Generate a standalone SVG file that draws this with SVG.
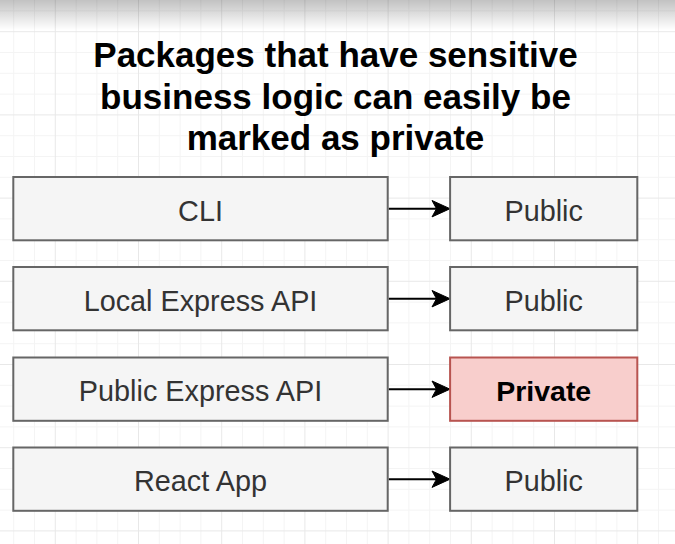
<svg xmlns="http://www.w3.org/2000/svg" width="675" height="544" viewBox="0 0 675 544">
  <defs>
    <style>
      .title { font-family: "Liberation Sans", Arial, Helvetica, sans-serif; font-weight: bold; font-size: 35px; fill: #000; text-anchor: middle; }
      .box { fill: #f5f5f5; stroke: #666666; stroke-width: 2; }
      .box-private { fill: #f8cecc; stroke: #b85450; stroke-width: 2; }
      .label { font-family: "Liberation Sans", Arial, Helvetica, sans-serif; font-size: 28.8px; fill: #333333; text-anchor: middle; }
      .label-bold { font-family: "Liberation Sans", Arial, Helvetica, sans-serif; font-size: 28.5px; font-weight: bold; fill: #000; text-anchor: middle; }
      .edge { stroke: #000; stroke-width: 2; fill: none; }
      .head { fill: #000; stroke: #000; stroke-width: 1; stroke-linejoin: miter; }
    </style>
    <pattern id="grid" patternUnits="userSpaceOnUse" x="54.8" y="31.2" width="83.2" height="83.2">
      <rect x="20.8" y="0" width="1" height="83.2" fill="#f4f4f4"/>
      <rect x="41.6" y="0" width="1" height="83.2" fill="#f4f4f4"/>
      <rect x="62.4" y="0" width="1" height="83.2" fill="#f4f4f4"/>
      <rect x="0" y="20.8" width="83.2" height="1" fill="#f4f4f4"/>
      <rect x="0" y="41.6" width="83.2" height="1" fill="#f4f4f4"/>
      <rect x="0" y="62.4" width="83.2" height="1" fill="#f4f4f4"/>
      <rect x="0" y="0" width="1" height="83.2" fill="#e8e8e8"/>
      <rect x="0" y="0" width="83.2" height="1" fill="#e8e8e8"/>
    </pattern>
    <linearGradient id="shade" x1="0" y1="0" x2="0" y2="1">
      <stop offset="0" stop-color="#000" stop-opacity="0.24"/>
      <stop offset="1" stop-color="#000" stop-opacity="0"/>
    </linearGradient>
  </defs>

  <rect x="0" y="0" width="675" height="544" fill="#ffffff"/>
  <rect x="0" y="0" width="675" height="544" fill="url(#grid)"/>
  <rect x="0" y="0" width="675" height="30" fill="url(#shade)"/>

  <g id="title">
    <text class="title" x="335.5" y="67">Packages that have sensitive</text>
    <text class="title" x="335.5" y="108.5">business logic can easily be</text>
    <text class="title" x="335.5" y="150">marked as private</text>
  </g>

  <g id="connectors">
    <line class="edge" x1="388.7" y1="208.7" x2="440" y2="208.7"/>
    <polygon class="head" points="450,208.7 432,200.5 436.5,208.7 432,216.9"/>
    <line class="edge" x1="388.7" y1="298.7" x2="440" y2="298.7"/>
    <polygon class="head" points="450,298.7 432,290.5 436.5,298.7 432,306.9"/>
    <line class="edge" x1="388.7" y1="389.2" x2="440" y2="389.2"/>
    <polygon class="head" points="450,389.2 432,381 436.5,389.2 432,397.4"/>
    <line class="edge" x1="388.7" y1="479.2" x2="440" y2="479.2"/>
    <polygon class="head" points="450,479.2 432,471 436.5,479.2 432,487.4"/>
  </g>

  <g id="cli">
    <rect class="box" x="13.3" y="177" width="374.4" height="63.3"/>
    <text class="label" x="200.5" y="220.5">CLI</text>
  </g>
  <g id="cli-public">
    <rect class="box" x="450.1" y="177" width="187.2" height="63.3"/>
    <text class="label" x="543.7" y="220.5">Public</text>
  </g>

  <g id="local-express-api">
    <rect class="box" x="13.3" y="267" width="374.4" height="63.3"/>
    <text class="label" x="200.5" y="310.5">Local Express API</text>
  </g>
  <g id="local-express-public">
    <rect class="box" x="450.1" y="267" width="187.2" height="63.3"/>
    <text class="label" x="543.7" y="310.5">Public</text>
  </g>

  <g id="public-express-api">
    <rect class="box" x="13.3" y="357.5" width="374.4" height="63.3"/>
    <text class="label" x="200.5" y="401">Public Express API</text>
  </g>
  <g id="public-express-private">
    <rect class="box-private" x="450.1" y="357.5" width="187.2" height="63.3"/>
    <text class="label-bold" x="543.7" y="401">Private</text>
  </g>

  <g id="react-app">
    <rect class="box" x="13.3" y="447.5" width="374.4" height="63.3"/>
    <text class="label" x="200.5" y="491">React App</text>
  </g>
  <g id="react-app-public">
    <rect class="box" x="450.1" y="447.5" width="187.2" height="63.3"/>
    <text class="label" x="543.7" y="491">Public</text>
  </g>
</svg>
